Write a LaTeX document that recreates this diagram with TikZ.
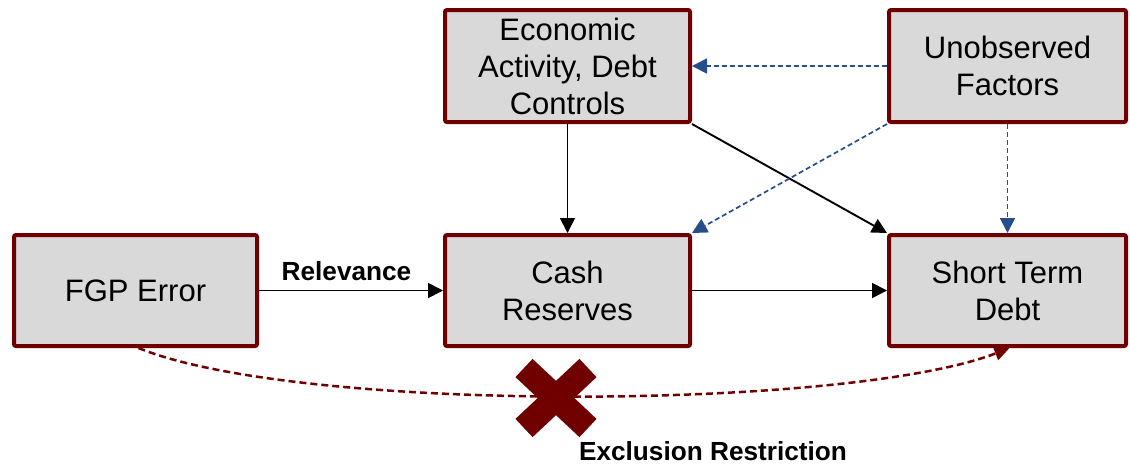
\documentclass[tikz,border=0pt]{standalone}
\usepackage{fontspec}
\setmainfont{Liberation Sans}
\usetikzlibrary{arrows.meta}
\definecolor{boxred}{RGB}{112,0,0}
\definecolor{boxfill}{RGB}{217,217,217}
\definecolor{dblue}{RGB}{37,78,138}
\begin{document}
\begin{tikzpicture}[x=1pt,y=-1pt,
  box/.style={draw=boxred, fill=boxfill, line width=4pt, rounded corners=2pt,
    align=center, font=\fontsize{31}{37}\selectfont, inner sep=0pt},
  lbl/.style={font=\fontsize{26.2}{30}\selectfont\bfseries, inner sep=0pt},
  blk/.style={draw=black, line width=1.9pt, -{Triangle[length=15pt,width=15pt]}},
  bl/.style={draw=dblue, line width=1.7pt, dash pattern=on 5pt off 3pt,
    -{Triangle[length=15pt,width=15pt]}},
  excl/.style={draw=boxred, line width=2.5pt, dash pattern=on 7pt off 4pt,
    -{Triangle[length=15pt,width=14pt]}}]
\useasboundingbox (0,0) rectangle (1130,466);

\node[box, minimum width=245pt, minimum height=112pt] (econ) at (567.5,66) {Economic\\Activity, Debt\\Controls};
\node[box, minimum width=237pt, minimum height=112pt] (unobs) at (1007.5,66) {Unobserved\\Factors};
\node[box, minimum width=243pt, minimum height=111pt] (fgp) at (135.5,290.5) {FGP Error};
\node[box, minimum width=245pt, minimum height=111pt] (cash) at (567.5,290.5) {Cash\\Reserves};
\node[box, minimum width=237pt, minimum height=111pt] (short) at (1007.5,290.5) {Short Term\\Debt};

\draw[blk] (fgp) -- (cash);
\draw[blk] (cash) -- (short);
\draw[blk] (econ) -- (cash);
\draw[blk] (econ.south east) -- (short.north west);

\draw[bl] (unobs) -- (econ);
\draw[bl] (unobs.south west) -- (cash.north east);
\draw[bl] (unobs) -- (short);

\node[lbl] (rel) at (346.5,271.5) {Relevance};

\draw[excl] ([xshift=3pt]fgp.south) .. controls (300,414) and (850,410) .. ([xshift=2pt]short.south);

\draw[boxred, line width=25pt] (524,368) -- (588,428) (588,368) -- (524,428);

\node[lbl] (excltext) at (713,451) {Exclusion Restriction};
\end{tikzpicture}
\end{document}
